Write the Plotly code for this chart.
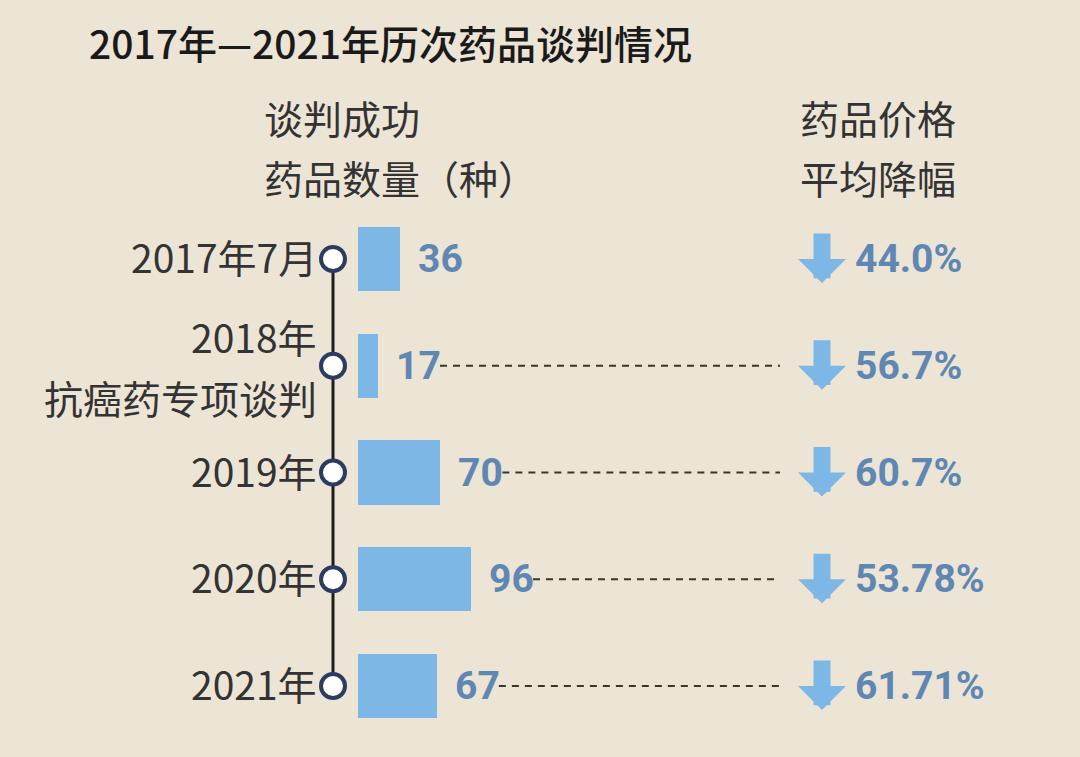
import plotly.graph_objects as go

# Data
title = "2017年—2021年历次药品谈判情况"
rounds = ["2017年7月", "2018年<br>抗癌药专项谈判", "2019年", "2020年", "2021年"]
drug_counts = [36, 17, 70, 96, 67]
price_cuts = ["44.0%", "56.7%", "60.7%", "53.78%", "61.71%"]
left_header = ["谈判成功", "药品数量（种）"]
right_header = ["药品价格", "平均降幅"]

# colours / fonts
bg = "#ECE4D4"
bar_color = "#7DB7E5"
num_color = "#5F87B3"
navy = "#2B3C63"
cjk = "Noto Sans CJK SC"
num_font = "Liberation Sans Narrow, Roboto, sans-serif"

W, H = 1080, 757
px_per_unit = 1.177
x0_px = 358  # where bars start
row_px0, row_step = 259, 106.75

rows = list(range(len(rounds)))


def bar_end_px(v):
    return x0_px + v * px_per_unit


fig = go.Figure()

# bars
fig.add_trace(go.Bar(
    x=drug_counts, y=rows, orientation="h", width=0.6,
    marker=dict(color=bar_color, line=dict(width=0)),
    hoverinfo="skip", showlegend=False,
))

# timeline line + circles (decoration axis x2 in pixel units)
fig.add_trace(go.Scatter(
    x=[333] * len(rows), y=rows, xaxis="x2", mode="lines+markers",
    line=dict(color="#1E1E1E", width=3),
    marker=dict(size=24, color="white", line=dict(color=navy, width=4)),
    hoverinfo="skip", showlegend=False,
))

annotations = []
shapes = []

# title and headers
annotations.append(dict(text=title, xref="paper", yref="paper", x=87 / W, y=1 - 42 / H,
                        xanchor="left", yanchor="middle", showarrow=False,
                        font=dict(family=cjk, size=39, color="#1A1A1A", weight=500)))
for k, line in enumerate(left_header):
    annotations.append(dict(text=line, xref="paper", yref="paper", x=262 / W, y=1 - (117 + 60 * k) / H,
                            xanchor="left", yanchor="middle", showarrow=False,
                            font=dict(family=cjk, size=39, color="#333333")))
for k, line in enumerate(right_header):
    annotations.append(dict(text=line, xref="paper", yref="paper", x=798 / W, y=1 - (117 + 60 * k) / H,
                            xanchor="left", yanchor="middle", showarrow=False,
                            font=dict(family=cjk, size=39, color="#333333")))

for i, (lab, v, pct) in enumerate(zip(rounds, drug_counts, price_cuts)):
    # left label (two-line labels spread around the row)
    parts = lab.split("<br>")
    shifts = [3] if len(parts) == 1 else [30, -31]
    for part, sh in zip(parts, shifts):
        annotations.append(dict(text=part, xref="x2", yref="y", x=319, y=i, yshift=sh,
                                xanchor="right", yanchor="middle", showarrow=False,
                                font=dict(family=cjk, size=39, color="#333333")))
    # value label
    annotations.append(dict(text=str(v), xref="x", yref="y", x=v, y=i, xshift=16,
                            xanchor="left", yanchor="middle", showarrow=False,
                            font=dict(family=num_font, size=39, color=num_color, weight="bold")))
    # arrow
    annotations.append(dict(text="", xref="x2", yref="y", x=822, y=i + 24 / row_step,
                            ax=0, ay=-51, showarrow=True, arrowhead=1, arrowsize=0.47,
                            arrowwidth=17, arrowcolor=bar_color))
    # percentage
    annotations.append(dict(text=pct, xref="x2", yref="y", x=853, y=i,
                            xanchor="left", yanchor="middle", showarrow=False,
                            font=dict(family=num_font, size=39, color=num_color, weight="bold")))
    # dashed leader
    if i > 0:
        shapes.append(dict(type="line", xref="x2", yref="y",
                           x0=bar_end_px(v) + 62, x1=780, y0=i, y1=i,
                           line=dict(color="#3A362E", width=2, dash="7px,6px")))

fig.update_layout(
    width=W, height=H,
    margin=dict(l=0, r=0, t=0, b=0),
    paper_bgcolor=bg, plot_bgcolor=bg,
    xaxis=dict(range=[-x0_px / px_per_unit, (W - x0_px) / px_per_unit], visible=False, fixedrange=True),
    xaxis2=dict(range=[0, W], overlaying="x", visible=False, fixedrange=True),
    yaxis=dict(range=[(H - row_px0) / row_step, -row_px0 / row_step], visible=False, fixedrange=True),
    annotations=annotations,
    shapes=shapes,
    bargap=0,
)

fig.write_html("out.html", config={"displayModeBar": False},
               post_script="document.body.style.margin='0';document.body.style.background='%s';" % bg)
